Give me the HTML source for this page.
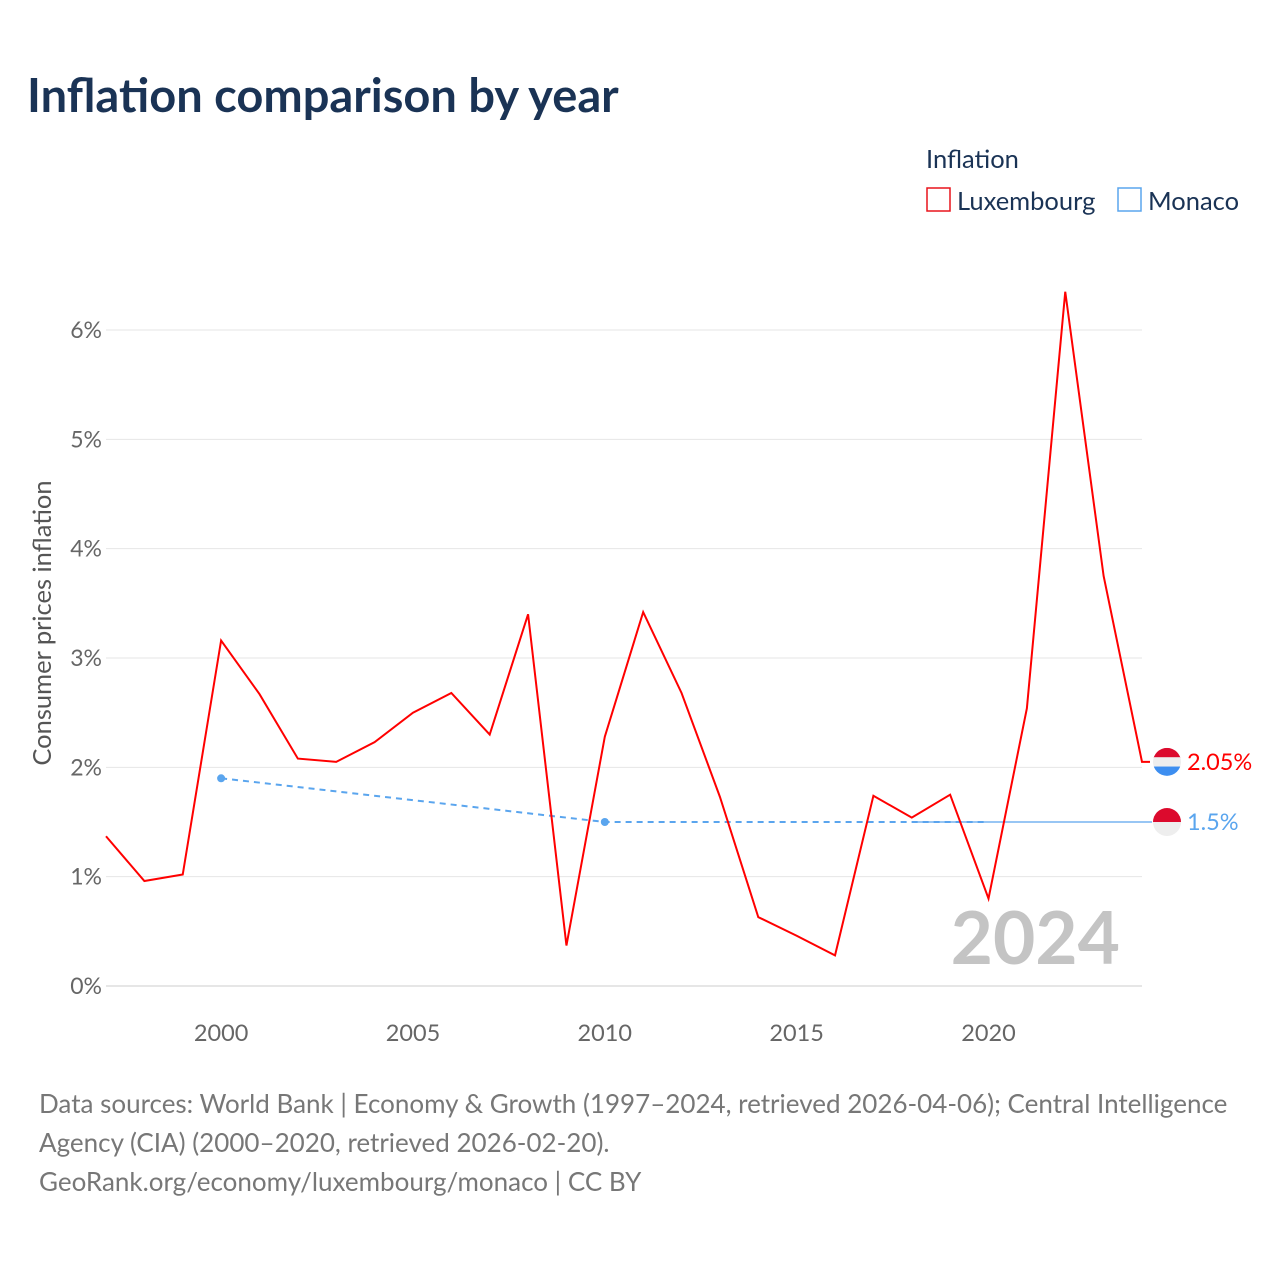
<!DOCTYPE html>
<html><head><meta charset="utf-8"><style>
body{margin:0;background:#fff;font-family:"Liberation Sans",sans-serif}
</style></head><body>
<svg width="1280" height="1280" xmlns="http://www.w3.org/2000/svg" font-family="Lato, 'Liberation Sans', sans-serif">
<text x="27" y="112" font-size="47" font-weight="bold" fill="#1a3355">Inflation comparison by year</text>
<text x="926" y="168" font-size="25.5" fill="#1a3355">Inflation</text>
<g><rect x="927" y="188" width="23" height="23" fill="none" stroke="#e8141c" stroke-width="1.5"/><text x="957" y="210" font-size="25.5" fill="#1a3355">Luxembourg</text></g>
<g><rect x="1118" y="188" width="23" height="23" fill="none" stroke="#5aa5ee" stroke-width="1.5"/><text x="1148" y="210" font-size="25.5" fill="#1a3355">Monaco</text></g>
<g id="grid"></g>
<g id="yt"></g>
<g id="xt"></g>
<text transform="translate(51,623) rotate(-90)" text-anchor="middle" font-size="25.5" fill="#555">Consumer prices inflation</text>
<text x="1120" y="964" text-anchor="end" font-size="73" font-weight="bold" fill="#c4c4c4">2024</text>
<g id="series"></g>
<text x="39" y="1113" font-size="26" fill="#777">Data sources: World Bank | Economy &amp; Growth (1997–2024, retrieved 2026-04-06); Central Intelligence</text>
<text x="39" y="1152" font-size="26" fill="#777">Agency (CIA) (2000–2020, retrieved 2026-02-20).</text>
<text x="39" y="1191" font-size="26" fill="#777">GeoRank.org/economy/luxembourg/monaco | CC BY</text>
</svg>
<script>
const luxYears=[1997,1998,1999,2000,2001,2002,2003,2004,2005,2006,2007,2008,2009,2010,2011,2012,2013,2014,2015,2016,2017,2018,2019,2020,2021,2022,2023,2024];
const luxValues=[1.37,0.96,1.02,3.16,2.67,2.08,2.05,2.23,2.50,2.68,2.30,3.40,0.37,2.28,3.42,2.68,1.73,0.63,0.46,0.28,1.74,1.54,1.75,0.80,2.54,6.35,3.75,2.05];
const monYears=[2000,2010,2020];
const monValues=[1.9,1.5,1.5];
const yTicks=[0,1,2,3,4,5,6];
const xTicks=[2000,2005,2010,2015,2020];
const NS="http://www.w3.org/2000/svg";
const X=y=>106+(y-1997)*38.37, Y=v=>986-v*109.33;
function mk(t,a,p){const e=document.createElementNS(NS,t);for(const k in a)e.setAttribute(k,a[k]);p.appendChild(e);return e;}
const grid=document.getElementById('grid'),yt=document.getElementById('yt'),xt=document.getElementById('xt'),s=document.getElementById('series');
yTicks.forEach(v=>{
 const l=mk('line',{x1:106,x2:1142,y1:Y(v),y2:Y(v),stroke:v===0?'#ccc':'#e6e6e6','stroke-width':1},grid);
 
 
 const t=mk('text',{x:102,y:Y(v)+8,'text-anchor':'end','font-size':23,fill:'#666'},yt);t.textContent=v+'%';
 
 
});
xTicks.forEach(y=>{
 const t=mk('text',{x:X(y),y:1041,'text-anchor':'middle','font-size':23.5,fill:'#666'},xt);t.textContent=y;
 
 
});
const mp=monYears.map((y,i)=>X(y)+','+Y(monValues[i])).join(' ');
const md=mk('polyline',{points:mp,fill:'none',stroke:'#5aa5ee','stroke-width':2,'stroke-dasharray':'6,5'},s);


const last=monValues[monValues.length-1];
const ms=mk('line',{x1:X(2018),x2:1152,y1:Y(last),y2:Y(last),stroke:'#5aa5ee','stroke-width':1.3},s);


monYears.slice(0,2).forEach((y,i)=>{const c=mk('circle',{cx:X(y),cy:Y(monValues[i]),r:4,fill:'#5aa5ee'},s);
 
 });
const lp=luxYears.map((y,i)=>X(y)+','+Y(luxValues[i])).join(' ')+' '+1150+','+Y(luxValues[luxValues.length-1]);
const ll=mk('polyline',{points:lp,fill:'none',stroke:'#f00','stroke-width':2,'stroke-linejoin':'miter'},s);


function flag(cy,stripes,name){
 const g=mk('g',{},s);
 
 
 const id='c'+name;const cp=mk('clipPath',{id:id},g);mk('circle',{cx:1167,cy:cy,r:14},cp);
 const h=28/stripes.length;stripes.forEach((c,i)=>mk('rect',{x:1153,y:cy-14+i*h,width:28,height:h+0.5,fill:c,'clip-path':'url(#'+id+')'},g));
}
const lv=luxValues[luxValues.length-1];
flag(Y(lv),['#dc0a2d','#eee','#3d8ef0'],'luxembourg-flag');
flag(Y(last),['#dc0a2d','#eee'],'monaco-flag');
const t1=mk('text',{x:1187,y:Y(lv)+8,'font-size':23.5,fill:'#f00'},s);t1.textContent=lv+'%';


const t2=mk('text',{x:1187,y:Y(last)+8,'font-size':23.5,fill:'#5aa5ee'},s);t2.textContent=last+'%';


</script>
</body></html>
